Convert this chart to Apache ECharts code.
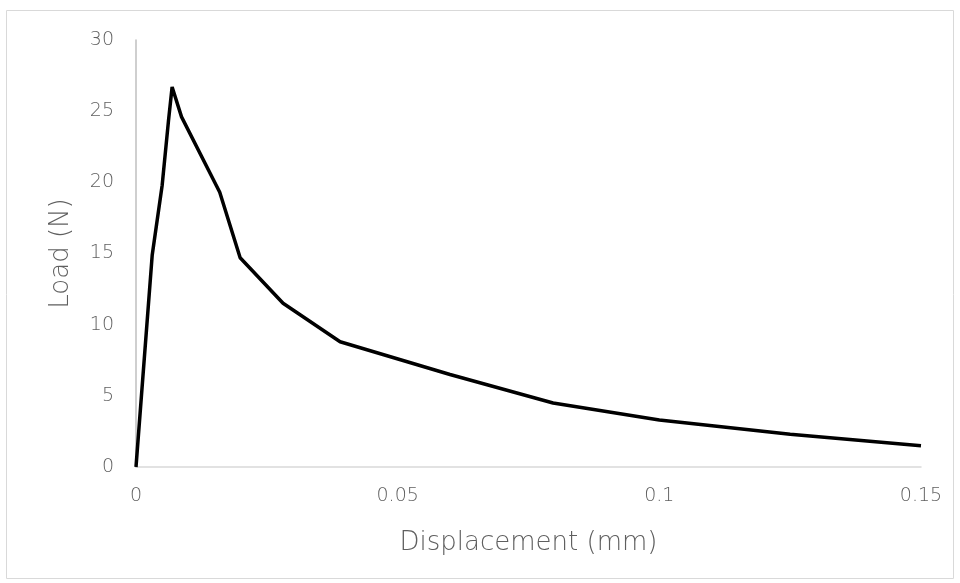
<!DOCTYPE html>
<html><head><meta charset="utf-8">
<script src="https://cdn.jsdelivr.net/npm/echarts@6/dist/echarts.min.js"></script>
<style>html,body{margin:0;padding:0;background:#fff}#c{width:960px;height:583px}</style>
</head><body><div id="c"></div>
<script>
const displacement = [0, 0.0031, 0.005, 0.0062, 0.0069, 0.0087, 0.016, 0.0199, 0.0281, 0.039, 0.06, 0.0797, 0.1, 0.125, 0.15];
const load = [0, 14.9, 19.8, 24.3, 26.7, 24.6, 19.3, 14.7, 11.5, 8.8, 6.5, 4.5, 3.3, 2.3, 1.5];
const xTicks = [0, 0.05, 0.1, 0.15];
const yTicks = [0, 5, 10, 15, 20, 25, 30];

const chart = echarts.init(document.getElementById('c'));
const font = 'DejaVu Sans';
const txt = '#5f5f5f';
chart.setOption({
  animation: false,
  graphic: [{type:'rect', shape:{x:6.5,y:10.5,width:947,height:568}, style:{fill:'none', stroke:'#d9d9d9', lineWidth:1}}],
  grid: {left:136, right:39, top:40, bottom:116},
  xAxis: {
    type:'value', min:0, max:0.15, interval:0.05,
    name:'Displacement (mm)', nameLocation:'middle', nameGap:63,
    nameTextStyle:{fontFamily:font, fontSize:26, fontWeight:200, color:txt},
    axisLine:{lineStyle:{color:'#d9d9d9', width:1.5}},
    axisTick:{show:false}, splitLine:{show:false},
    axisLabel:{fontFamily:font, fontSize:19, fontWeight:200, color:txt, margin:20,
      formatter:v=> xTicks.includes(+v.toFixed(2)) ? String(+v.toFixed(2)) : ''}
  },
  yAxis: {
    type:'value', min:0, max:30, interval:5,
    name:'Load (N)', nameLocation:'middle', nameGap:62, nameRotate:90,
    nameTextStyle:{fontFamily:font, fontSize:26, fontWeight:200, color:txt},
    axisLine:{show:true, lineStyle:{color:'#bfbfbf', width:1.5}},
    axisTick:{show:false}, splitLine:{show:false},
    axisLabel:{fontFamily:font, fontSize:19, fontWeight:200, color:txt, margin:22,
      formatter:v=> yTicks.includes(v) ? String(v) : ''}
  },
  series: [{
    type:'line', data: displacement.map((d,i)=>[d, load[i]]),
    showSymbol:false, lineStyle:{color:'#000', width:3.5}, z:3
  }]
});
</script></body></html>
